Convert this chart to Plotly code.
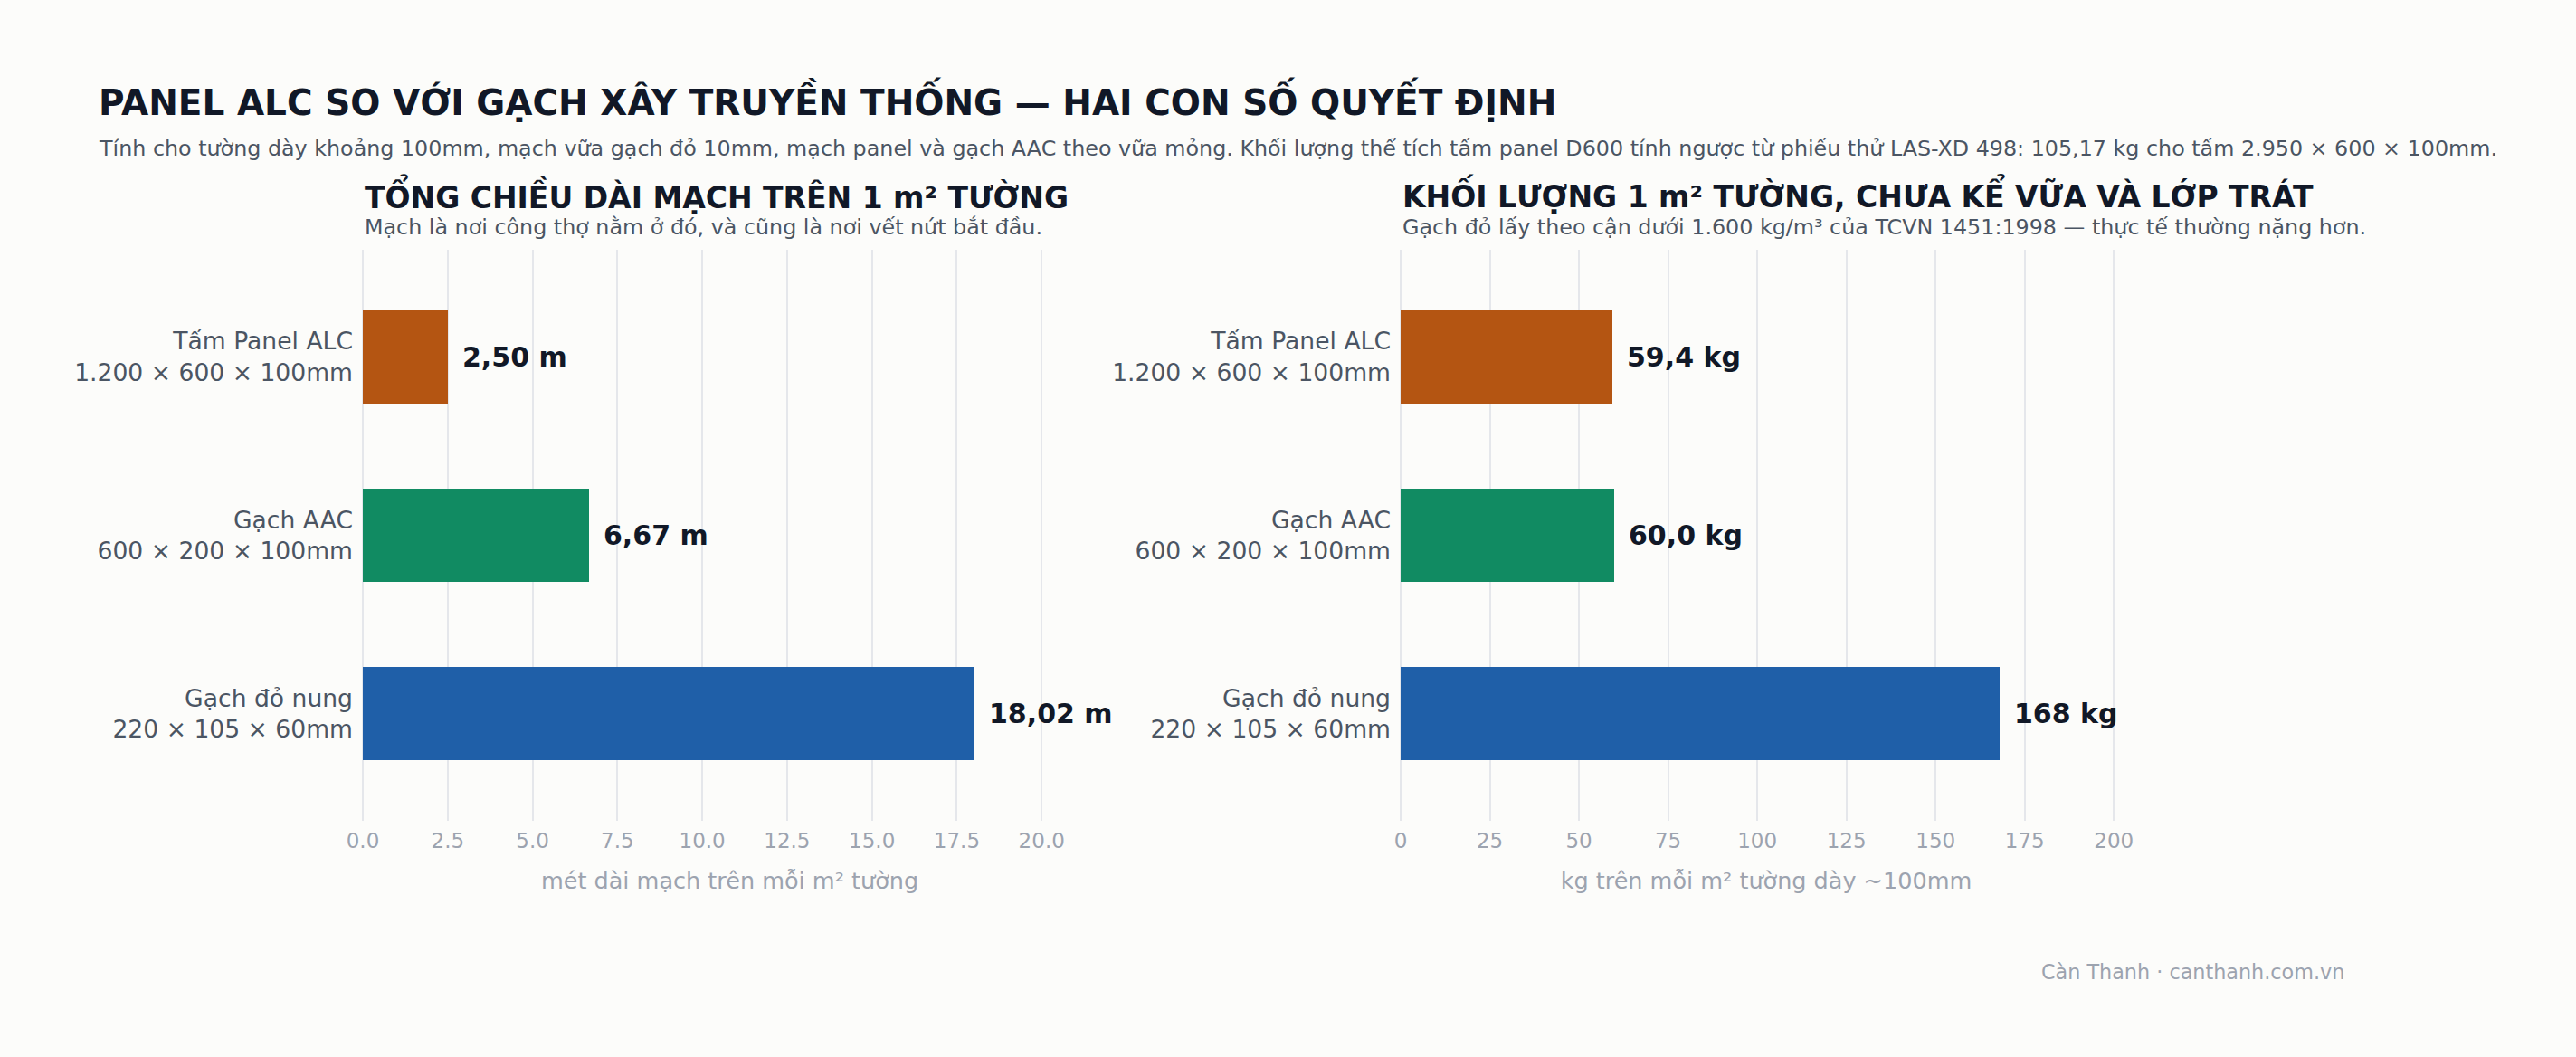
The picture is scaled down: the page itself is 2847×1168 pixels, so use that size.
import plotly.graph_objects as go

# so sánh 3 loại vật liệu tường
vat_lieu = [
    "Tấm Panel ALC<br>1.200 × 600 × 100mm",
    "Gạch AAC<br>600 × 200 × 100mm",
    "Gạch đỏ nung<br>220 × 105 × 60mm",
]
chieu_dai_mach = [2.50, 6.67, 18.02]   # m mạch / m2 tường
khoi_luong = [59.4, 60.0, 168]         # kg / m2 tường

mau = ["#b45512", "#118b62", "#1f5fa8"]

W, H = 2847, 1168
ML, MR, MT, MB = 401, 254, 276, 261
PW = W - ML - MR
PH = H - MT - MB

FONT = "DejaVu Sans"
DARK = "#111827"
GRAY = "#4b5563"
LIGHT = "#9ca3af"
GRID = "#e5e7eb"
BG = "#fcfcfa"


def px_x(p):
    return (p - ML) / PW


def px_y(p):
    return (H - MB - p) / PH


def nhan_m(v):
    return f"{v:.2f}".replace(".", ",") + " m"


def nhan_kg(v):
    if v >= 100:
        return f"{v:.0f} kg"
    return f"{v:.1f}".replace(".", ",") + " kg"


fig = go.Figure()
fig.add_trace(go.Bar(x=chieu_dai_mach, y=vat_lieu, orientation="h", width=0.52,
                     marker=dict(color=mau, line=dict(width=0)),
                     xaxis="x", yaxis="y", hoverinfo="skip"))
fig.add_trace(go.Bar(x=khoi_luong, y=vat_lieu, orientation="h", width=0.52,
                     marker=dict(color=mau, line=dict(width=0)),
                     xaxis="x2", yaxis="y2", hoverinfo="skip"))

ann = []
for v, c in zip(chieu_dai_mach, vat_lieu):
    ann.append(dict(x=v, y=c, xref="x", yref="y", text="<b>" + nhan_m(v) + "</b>",
                    showarrow=False, xanchor="left", xshift=14,
                    font=dict(family=FONT, size=30, color=DARK)))
for v, c in zip(khoi_luong, vat_lieu):
    ann.append(dict(x=v, y=c, xref="x2", yref="y2", text="<b>" + nhan_kg(v) + "</b>",
                    showarrow=False, xanchor="left", xshift=14,
                    font=dict(family=FONT, size=30, color=DARK)))


def chu(text, x, baseline, size, color, anchor="left"):
    ann.append(dict(text=text, x=x, y=px_y(baseline - 0.346 * size), xref="paper", yref="paper",
                    xanchor=anchor, yanchor="middle", showarrow=False,
                    font=dict(family=FONT, size=size, color=color)))


chu("<b>PANEL ALC SO VỚI GẠCH XÂY TRUYỀN THỐNG — HAI CON SỐ QUYẾT ĐỊNH</b>", px_x(107), 124, 39, DARK)
chu("Tính cho tường dày khoảng 100mm, mạch vữa gạch đỏ 10mm, mạch panel và gạch AAC theo vữa mỏng. "
    "Khối lượng thể tích tấm panel D600 tính ngược từ phiếu thử LAS-XD 498: 105,17 kg cho tấm 2.950 × 600 × 100mm.",
    px_x(107), 172, 23.8, GRAY)

d1 = [0, px_x(1212)]
d2 = [px_x(1548), px_x(2356)]

chu("<b>TỔNG CHIỀU DÀI MẠCH TRÊN 1 m² TƯỜNG</b>", d1[0], 226, 33, DARK)
chu("Mạch là nơi công thợ nằm ở đó, và cũng là nơi vết nứt bắt đầu.", d1[0], 259, 23.8, GRAY)
chu("<b>KHỐI LƯỢNG 1 m² TƯỜNG, CHƯA KỂ VỮA VÀ LỚP TRÁT</b>", d2[0], 226, 33, DARK)
chu("Gạch đỏ lấy theo cận dưới 1.600 kg/m³ của TCVN 1451:1998 — thực tế thường nặng hơn.", d2[0], 259, 23.8, GRAY)
chu("Càn Thanh · canthanh.com.vn", 1.0, 1082, 22.3, LIGHT, anchor="right")

xa = dict(showgrid=True, gridcolor=GRID, gridwidth=2, zeroline=True, zerolinecolor=GRID,
          zerolinewidth=2, showline=False, ticks="", ticklabelstandoff=6,
          tickfont=dict(family=FONT, size=23, color=LIGHT),
          title_font=dict(family=FONT, size=25.5, color=LIGHT), title_standoff=23)
ya = dict(showgrid=False, zeroline=False, showline=False, ticks="", range=[2.6, -0.6],
          ticklabelstandoff=10, tickfont=dict(family=FONT, size=26.6, color=GRAY))

fig.update_layout(
    width=W, height=H,
    margin=dict(l=ML, r=MR, t=MT, b=MB),
    paper_bgcolor=BG, plot_bgcolor=BG,
    showlegend=False,
    bargap=0,
    xaxis=dict(xa, domain=d1, range=[0, 21.62], dtick=2.5, tick0=0, tickformat=".1f",
               title_text="mét dài mạch trên mỗi m² tường"),
    yaxis=dict(ya, anchor="x"),
    xaxis2=dict(xa, domain=d2, range=[0, 205], dtick=25, tick0=0,
                title_text="kg trên mỗi m² tường dày ~100mm", anchor="y2"),
    yaxis2=dict(ya, anchor="x2"),
    annotations=ann,
)

# bỏ lề mặc định của trang để hình nằm sát góc trên trái
fig.write_html("out.html", config={"displayModeBar": False},
               post_script="document.body.style.margin='0';document.body.style.background='#fcfcfa';")
